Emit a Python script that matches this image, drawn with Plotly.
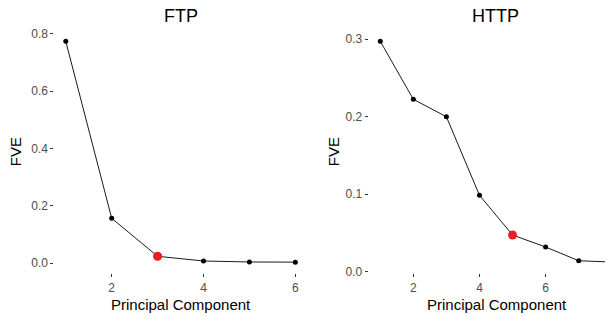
import plotly.graph_objects as go

W, H = 613, 320
OFF = 8  # page body margin offset in the browser

# Data
ftp_pc = [1, 2, 3, 4, 5, 6]
ftp_fve = [0.7735, 0.156, 0.0234, 0.007, 0.0035, 0.003]
ftp_sel = 3

http_pc = [1, 2, 3, 4, 5, 6, 7, 8]
http_fve = [0.2974, 0.2225, 0.200, 0.0986, 0.0474, 0.0319, 0.0142, 0.0125]
http_sel = 5

x_ticks_ftp = [2, 4, 6]
x_ticks_http = [2, 4, 6, 8]
y_ticks_ftp = [0.0, 0.2, 0.4, 0.6, 0.8]
y_ticks_http = [0.0, 0.1, 0.2, 0.3]

FONT = "Liberation Sans, Arial, sans-serif"
LINE_C = "#1a1a1a"
RED = "#EC1C24"

fig = go.Figure()

def add_panel(pc, fve, sel, xa, ya):
    fig.add_trace(go.Scatter(x=pc, y=fve, mode="lines+markers",
                             line=dict(color=LINE_C, width=1),
                             marker=dict(color="black", size=5),
                             xaxis=xa, yaxis=ya, showlegend=False))
    fig.add_trace(go.Scatter(x=[pc[sel - 1]], y=[fve[sel - 1]], mode="markers",
                             marker=dict(color=RED, size=9),
                             xaxis=xa, yaxis=ya, showlegend=False))

add_panel(ftp_pc, ftp_fve, ftp_sel, "x", "y")
add_panel(http_pc, http_fve, http_sel, "x2", "y2")

# screen pixel -> paper fraction (compensating the page offset)
def px_x(p):
    return (p - OFF) / W

def px_y(p):
    return 1 - (p - OFF) / H

ydom = [px_y(273.2), px_y(30.3)]

# HTTP x scale: value 1 at screen 380.2, 33.07 px per unit
http_left_px = 368.7
http_right_val = 0.65 + (W + OFF - http_left_px) / 33.07

axis_common = dict(showgrid=False, zeroline=False, showline=False,
                   ticks="outside", ticklen=3, tickwidth=1, tickcolor="#333333",
                   tickfont=dict(family=FONT, size=12, color="#4D4D4D"),
                   automargin=False)

fig.update_layout(
    width=W, height=H,
    margin=dict(l=0, r=0, t=0, b=0),
    paper_bgcolor="white", plot_bgcolor="white",
    xaxis=dict(domain=[px_x(54.3), px_x(306.8)], range=[0.75, 6.25],
               tickvals=x_ticks_ftp, anchor="y", **axis_common),
    yaxis=dict(domain=ydom, range=[-0.0356, 0.812], tickvals=y_ticks_ftp,
               tickformat=".1f", anchor="x", **axis_common),
    xaxis2=dict(domain=[px_x(http_left_px), 1.0], range=[0.65, http_right_val],
                tickvals=x_ticks_http, anchor="y2", **axis_common),
    yaxis2=dict(domain=ydom, range=[-0.0019, 0.3116], tickvals=y_ticks_http,
                tickformat=".1f", anchor="x2", **axis_common),
)

ann = []
def text(x, y, s, size, angle=0, color="black"):
    ann.append(dict(x=px_x(x), y=px_y(y), xref="paper", yref="paper",
                    text=s, showarrow=False, textangle=angle,
                    xanchor="center", yanchor="middle",
                    font=dict(family=FONT, size=size, color=color)))

text(180.5, 15.5, "FTP", 18)
text(495.9, 15.5, "HTTP", 18)
text(180.8, 304, "Principal Component", 15)
text(496.5, 304, "Principal Component", 15)
text(15.5, 151.7, "FVE", 15, angle=-90)
text(333.5, 151.7, "FVE", 15, angle=-90)
fig.update_layout(annotations=ann)

fig.write_html("out.html")
